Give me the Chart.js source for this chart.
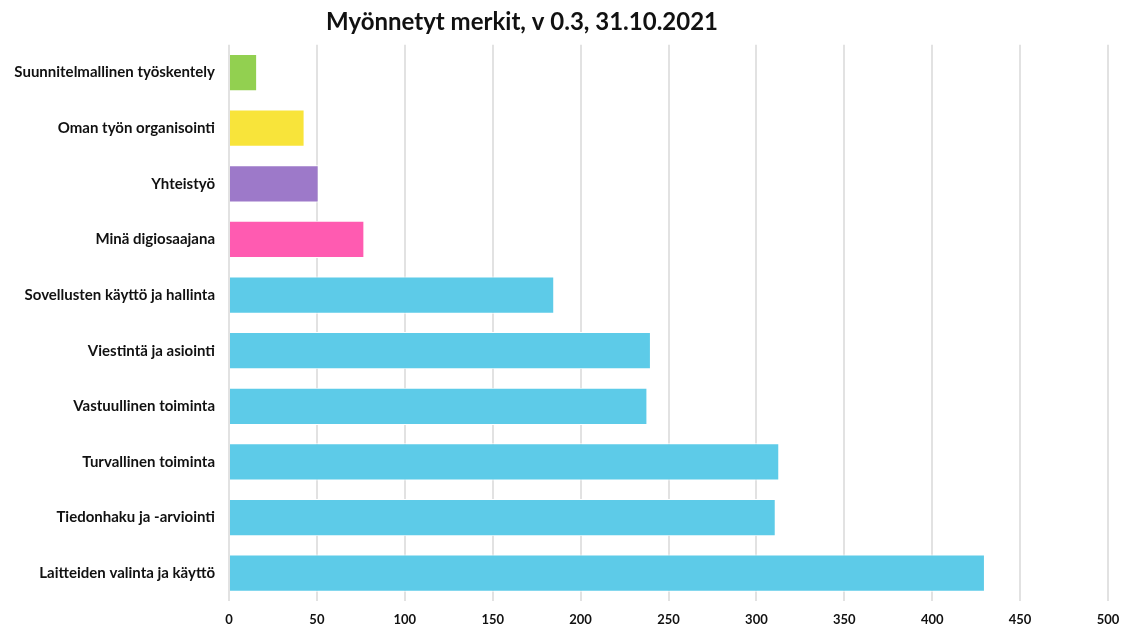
<!DOCTYPE html>
<html>
<head>
<meta charset="utf-8">
<script src="https://cdn.jsdelivr.net/npm/chart.js@4"></script>
<style>
  html, body { margin: 0; padding: 0; background: #fff; }
  #wrap { width: 1121px; height: 627px; }
</style>
</head>
<body>
<div id="wrap"><canvas id="chart" width="1121" height="627"></canvas></div>
<script>
// Data
const categories = [
    'Suunnitelmallinen työskentely',
    'Oman työn organisointi',
    'Yhteistyö',
    'Minä digiosaajana',
    'Sovellusten käyttö ja hallinta',
    'Viestintä ja asiointi',
    'Vastuullinen toiminta',
    'Turvallinen toiminta',
    'Tiedonhaku ja -arviointi',
    'Laitteiden valinta ja käyttö'
];
const merkit = [16, 43, 51, 77, 185, 240, 238, 313, 311, 430];
const barColors = [
    '#92d050', // vihreä
    '#f8e43a', // keltainen
    '#9d79c9', // violetti
    '#ff5bb1', // pinkki
    '#5dcbe8', '#5dcbe8', '#5dcbe8', '#5dcbe8', '#5dcbe8', '#5dcbe8' // sininen
];
const xTicks = [0, 50, 100, 150, 200, 250, 300, 350, 400, 450, 500];

const fontFamily = 'Lato, "Open Sans", sans-serif';

// otsikko hieman vasemmalle kuten alkuperäisessä
const shiftTitle = {
    id: 'shiftTitle',
    afterLayout(chart) {
        if (chart.titleBlock) chart.titleBlock.right -= 72;
    }
};

const chart = new Chart(document.getElementById('chart'), {
    type: 'bar',
    data: {
        labels: categories,
        datasets: [{
            label: 'Myönnetyt merkit',
            data: merkit,
            backgroundColor: barColors,
            borderColor: '#ffffff',
            borderWidth: 1,
            categoryPercentage: 1.0,
            barPercentage: 0.67
        }]
    },
    options: {
        indexAxis: 'y',
        responsive: false,
        animation: false,
        layout: { padding: { left: 8, right: 13, top: 0, bottom: 0 } },
        plugins: {
            legend: { display: false },
            tooltip: { enabled: false },
            title: {
                display: true,
                text: 'Myönnetyt merkit, v 0.3, 31.10.2021',
                color: '#111',
                font: { family: fontFamily, size: 24, weight: 'bold' },
                padding: { top: 8, bottom: 8 }
            }
        },
        scales: {
            x: {
                min: 0,
                max: 500,
                afterBuildTicks: (scale) => { scale.ticks = xTicks.map(v => ({ value: v })); },
                afterFit: (scale) => {
                    scale.height = 26;
                    scale.paddingLeft = 0;
                    scale.paddingRight = 0;
                },
                grid: { color: '#e2e2e2', lineWidth: 2, drawTicks: true, tickLength: 4, tickColor: '#ffffff' },
                border: { display: false },
                ticks: {
                    color: '#111',
                    padding: 7,
                    font: { family: fontFamily, size: 13, weight: 'bold' }
                }
            },
            y: {
                afterFit: (scale) => { scale.width = 221; },
                grid: { display: false },
                border: { display: false },
                ticks: {
                    color: '#111',
                    padding: 6,
                    font: { family: fontFamily, size: 15, weight: 'bold' }
                }
            }
        }
    },
    plugins: [shiftTitle]
});
</script>
</body>
</html>
